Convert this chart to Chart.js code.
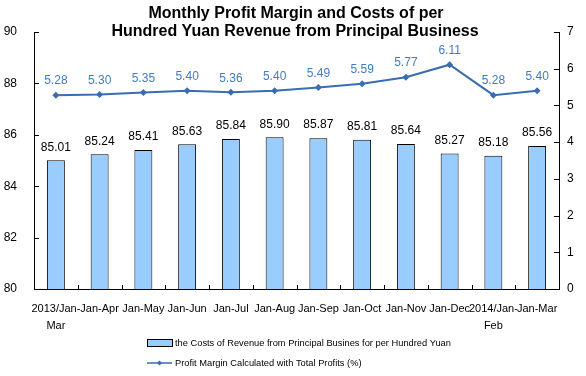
<!DOCTYPE html>
<html>
<head>
<meta charset="utf-8">
<script src="https://cdn.jsdelivr.net/npm/chart.js@4.4.0/dist/chart.umd.min.js"></script>
<style>
  html, body { margin: 0; padding: 0; background: #fff; }
  #wrap { position: relative; width: 586px; height: 376px; }
</style>
</head>
<body>
<div id="wrap"><canvas id="chart" width="586" height="376"></canvas></div>
<script>
// Data
const periods = [
    ["2013/Jan-", "Mar"], "Jan-Apr", "Jan-May", "Jan-Jun", "Jan-Jul", "Jan-Aug",
    "Jan-Sep", "Jan-Oct", "Jan-Nov", "Jan-Dec", ["2014/Jan-", "Feb"], "Jan-Mar"
];
const costsPerHundred = [85.01, 85.24, 85.41, 85.63, 85.84, 85.90, 85.87, 85.81, 85.64, 85.27, 85.18, 85.56];
const profitMargin = [5.28, 5.30, 5.35, 5.40, 5.36, 5.40, 5.49, 5.59, 5.77, 6.11, 5.28, 5.40];
const titleLines = ["Monthly Profit Margin and Costs of per", "Hundred Yuan Revenue from Principal Business"];
const costsLabel = "the Costs of Revenue from Principal Busines for per Hundred Yuan";
const marginLabel = "Profit Margin Calculated with Total Profits (%)";

const FONT = "Arial, 'Liberation Sans', sans-serif";
const BAR_FILL = "#99ccff";
const LINE_COLOR = "#3a6db0";
const LINE_LABEL = "#3f7cc6";

// inside tick marks like the original spreadsheet chart
const insideTicks = {
    id: 'insideTicks',
    afterDatasetsDraw(chart) {
        const ctx = chart.ctx;
        const area = chart.chartArea;
        const { y, y1 } = chart.scales;
        ctx.save();
        ctx.strokeStyle = '#000';
        ctx.lineWidth = 1;
        ctx.beginPath();
        y.ticks.forEach(t => {
            const py = Math.round(y.getPixelForValue(t.value)) + 0.5;
            ctx.moveTo(area.left, py);
            ctx.lineTo(area.left + 5, py);
        });
        y1.ticks.forEach(t => {
            const py = Math.round(y1.getPixelForValue(t.value)) + 0.5;
            ctx.moveTo(area.right, py);
            ctx.lineTo(area.right - 5, py);
        });
        const step = (area.right - area.left) / periods.length;
        for (let i = 1; i < periods.length; i++) {
            const px = Math.round(area.left + i * step) + 0.5;
            ctx.moveTo(px, area.bottom);
            ctx.lineTo(px, area.bottom - 4);
        }
        ctx.stroke();
        ctx.restore();
    }
};

// value labels above bars and points
const valueLabels = {
    id: 'valueLabels',
    afterDatasetsDraw(chart) {
        const ctx = chart.ctx;
        ctx.save();
        ctx.font = "12px " + FONT;
        ctx.textAlign = 'center';
        ctx.textBaseline = 'middle';
        chart.getDatasetMeta(0).data.forEach((bar, i) => {
            ctx.fillStyle = '#000';
            ctx.fillText(costsPerHundred[i].toFixed(2), bar.x, bar.y - 13);
        });
        chart.getDatasetMeta(1).data.forEach((pt, i) => {
            ctx.fillStyle = LINE_LABEL;
            ctx.fillText(profitMargin[i].toFixed(2), pt.x, pt.y - 14);
        });
        ctx.restore();
    }
};

// title overlapping the top of the plot, and the stacked legend below
const titleAndLegend = {
    id: 'titleAndLegend',
    afterDraw(chart) {
        const ctx = chart.ctx;
        ctx.save();
        ctx.fillStyle = '#000';
        ctx.textAlign = 'center';
        ctx.textBaseline = 'middle';
        ctx.font = "bold 16px " + FONT;
        ctx.fillText(titleLines[0], 296, 14);
        ctx.fillText(titleLines[1], 295, 32);

        // bar legend entry
        ctx.fillStyle = BAR_FILL;
        ctx.fillRect(147.5, 339.5, 25, 7);
        ctx.strokeStyle = '#000';
        ctx.lineWidth = 1;
        ctx.strokeRect(147.5, 339.5, 25, 7);
        // line legend entry
        ctx.strokeStyle = LINE_COLOR;
        ctx.lineWidth = 1.5;
        ctx.beginPath();
        ctx.moveTo(147, 363);
        ctx.lineTo(172, 363);
        ctx.stroke();
        ctx.fillStyle = LINE_COLOR;
        ctx.beginPath();
        ctx.moveTo(159.5, 360.5);
        ctx.lineTo(162, 363);
        ctx.lineTo(159.5, 365.5);
        ctx.lineTo(157, 363);
        ctx.closePath();
        ctx.fill();

        ctx.fillStyle = '#000';
        ctx.textAlign = 'left';
        ctx.font = "9.3px " + FONT;
        ctx.fillText(costsLabel, 175, 343);
        ctx.fillText(marginLabel, 175, 363);
        ctx.restore();
    }
};

function drawChart() {
    const ctx = document.getElementById('chart').getContext('2d');
    new Chart(ctx, {
        data: {
            labels: periods,
            datasets: [{
                type: 'bar',
                label: costsLabel,
                data: costsPerHundred,
                yAxisID: 'y',
                backgroundColor: BAR_FILL,
                borderColor: '#000',
                borderWidth: 1,
                barPercentage: 0.41,
                categoryPercentage: 1,
                order: 2
            }, {
                type: 'line',
                label: marginLabel,
                data: profitMargin,
                yAxisID: 'y1',
                borderColor: LINE_COLOR,
                backgroundColor: LINE_COLOR,
                borderWidth: 2,
                pointStyle: 'rectRot',
                pointRadius: 3.5,
                pointBorderWidth: 0,
                tension: 0,
                order: 1
            }]
        },
        options: {
            responsive: false,
            animation: false,
            devicePixelRatio: 1,
            layout: { padding: { top: 32, left: 0, right: 0, bottom: 0 } },
            plugins: {
                legend: { display: false },
                title: { display: false },
                tooltip: { enabled: false }
            },
            scales: {
                x: {
                    offset: true,
                    grid: { display: false, drawTicks: false },
                    border: { color: '#000', width: 1 },
                    ticks: {
                        color: '#000',
                        font: { size: 11, family: FONT, lineHeight: 1.5 },
                        padding: 12,
                        maxRotation: 0,
                        autoSkip: false
                    },
                    afterFit(scale) { scale.height = 87; }
                },
                y: {
                    position: 'left',
                    min: 80,
                    max: 90,
                    grid: { display: false, drawTicks: false },
                    border: { color: '#000', width: 1 },
                    ticks: {
                        stepSize: 2,
                        color: '#000',
                        font: { size: 12, family: FONT },
                        padding: 17
                    },
                    afterFit(scale) { scale.width = 34; }
                },
                y1: {
                    position: 'right',
                    min: 0,
                    max: 7,
                    grid: { display: false, drawTicks: false },
                    border: { color: '#000', width: 1 },
                    ticks: {
                        stepSize: 1,
                        color: '#000',
                        font: { size: 12, family: FONT },
                        padding: 8
                    },
                    afterFit(scale) { scale.width = 27; }
                }
            }
        },
        plugins: [insideTicks, valueLabels, titleAndLegend]
    });
}

window.addEventListener('load', drawChart);
</script>
</body>
</html>
